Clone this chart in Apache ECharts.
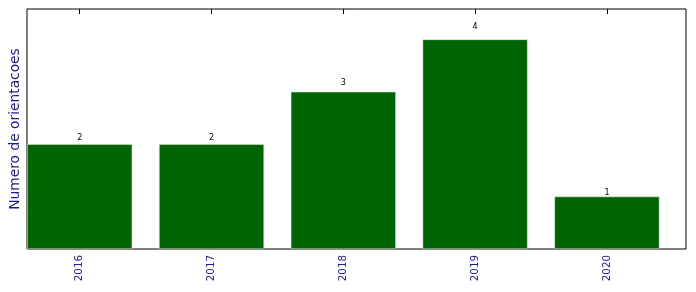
<!DOCTYPE html>
<html><head><meta charset="utf-8">
<script src="https://cdn.jsdelivr.net/npm/echarts@6/dist/echarts.min.js"></script>
<style>html,body{margin:0;padding:0;background:#fff}#c{width:696px;height:292px}</style>
</head><body><div id="c"></div>
<script>
const categories = ['2016','2017','2018','2019','2020'];
const values = [2, 2, 3, 4, 1];
const yLabel = 'Numero de orientacoes';

const positions = categories.map((_, i) => i);
const chart = echarts.init(document.getElementById('c'), null, {renderer: 'canvas'});
const font = 'DejaVu Sans';
const tickCfg = {show: true, inside: true, length: 5, lineStyle: {color: '#000', width: 1}, customValues: positions};
chart.setOption({
  animation: false,
  grid: {left: 27, right: 10, top: 9, bottom: 43, show: true, borderColor: '#000', borderWidth: 1, backgroundColor: 'transparent'},
  xAxis: [{
    type: 'value', min: -0.4, max: 4.6, position: 'bottom',
    axisLine: {show: false}, splitLine: {show: false},
    axisTick: tickCfg,
    axisLabel: {show: true, rotate: 90, margin: 6, fontSize: 10.3, fontFamily: font, color: '#1a1a9a',
      customValues: positions, formatter: v => categories[Math.round(v)]}
  }, {
    type: 'value', min: -0.4, max: 4.6, position: 'top',
    axisLine: {show: false}, splitLine: {show: false},
    axisTick: tickCfg, axisLabel: {show: false}
  }],
  yAxis: {
    type: 'value', min: 0, max: 4.58,
    axisLine: {show: false}, axisTick: {show: false}, axisLabel: {show: false}, splitLine: {show: false},
    name: yLabel, nameLocation: 'middle', nameRotate: 90, nameGap: 5,
    nameTextStyle: {fontSize: 13.8, fontFamily: font, color: '#1a1a9a'}
  },
  series: [{
    type: 'bar', xAxisIndex: 0,
    data: positions.map((p, i) => [p, values[i]]),
    barWidth: 105,
    itemStyle: {color: '#006400', borderColor: '#e8efe8', borderWidth: 0.5}
  }, {
    type: 'scatter', xAxisIndex: 0, symbolSize: 0, silent: true,
    itemStyle: {color: '#000', opacity: 1},
    data: positions.map((p, i) => ({value: [p, values[i] * 1.05], label: {formatter: String(values[i])}})),
    label: {show: true, position: 'top', distance: -2.5, fontSize: 8, fontFamily: font, color: '#000', opacity: 1}
  }]
});
</script></body></html>
